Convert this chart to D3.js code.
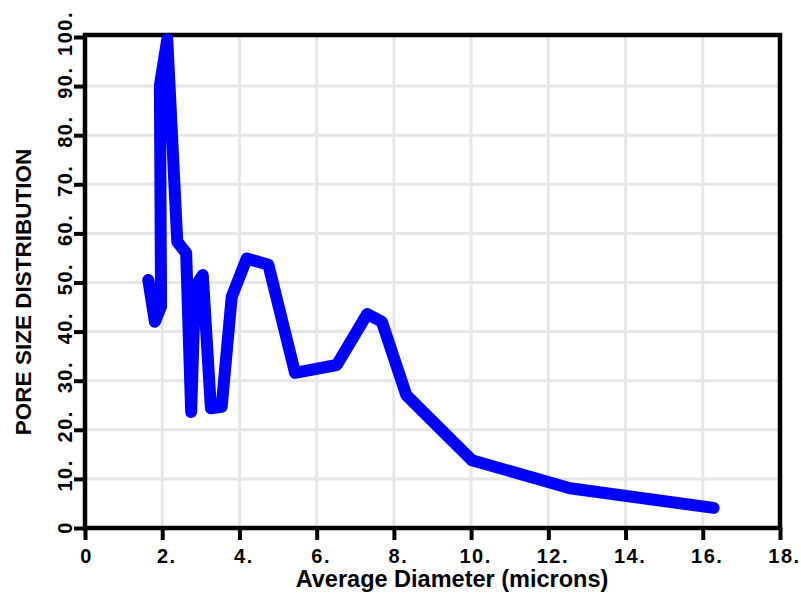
<!DOCTYPE html>
<html>
<head>
<meta charset="utf-8">
<script src="https://cdn.jsdelivr.net/npm/d3@7"></script>
<style>
  body { margin: 0; background: #fff; }
  text { font-family: "Liberation Sans", Arial, sans-serif; font-weight: bold; fill: #000; }
</style>
</head>
<body>
<script>
// data
var diameter = [1.64, 1.81, 1.97, 1.94, 2.13, 2.39, 2.62, 2.75, 2.85, 3.05, 3.26, 3.54, 3.80, 4.19, 4.75, 5.44, 6.52, 7.31, 7.69, 8.32, 10.02, 12.56, 16.28];
var poreSize = [50.5, 42.0, 45.1, 90.2, 99.5, 58.3, 56.0, 23.6, 49.1, 51.5, 24.4, 24.7, 47.1, 54.9, 53.6, 31.6, 33.2, 43.6, 42.0, 27.1, 13.8, 8.1, 4.1];

var xTicks = [0, 2, 4, 6, 8, 10, 12, 14, 16, 18];
var xTickLabels = ["0", "2.", "4.", "6.", "8.", "10.", "12.", "14.", "16.", "18."];
var yTicks = [0, 10, 20, 30, 40, 50, 60, 70, 80, 90, 100];
var yTickLabels = ["0", "10.", "20.", "30.", "40.", "50.", "60.", "70.", "80.", "90.", "100."];

//Define Margin (plot area edges)
var W = 801, H = 598;
var margin = {left: 85, right: 780, top: 37, bottom: 528};

var svg = d3.select("body").append("svg")
    .attr("width", W)
    .attr("height", H);

//Define Scales
var xScale = d3.scaleLinear().domain([0, 18]).range([margin.left, margin.right]);
var yScale = d3.scaleLinear().domain([0, 100]).range([margin.bottom, margin.top]);

//Grid lines
svg.append("g").selectAll("line")
    .data(xTicks.slice(1, -1))
    .enter().append("line")
    .attr("x1", function(d) { return xScale(d); })
    .attr("x2", function(d) { return xScale(d); })
    .attr("y1", margin.top)
    .attr("y2", margin.bottom)
    .attr("stroke", "#e6e6e6")
    .attr("stroke-width", 3);

svg.append("g").selectAll("line")
    .data(yTicks.slice(1, -1))
    .enter().append("line")
    .attr("x1", margin.left)
    .attr("x2", margin.right)
    .attr("y1", function(d) { return yScale(d); })
    .attr("y2", function(d) { return yScale(d); })
    .attr("stroke", "#e6e6e6")
    .attr("stroke-width", 3);

//Axes
var xAxis = d3.axisBottom(xScale)
    .tickValues(xTicks)
    .tickSize(12)
    .tickPadding(9)
    .tickFormat(function(d, i) { return xTickLabels[i]; });

var yAxis = d3.axisLeft(yScale)
    .tickValues(yTicks)
    .tickSize(11)
    .tickFormat(function(d, i) { return yTickLabels[i]; });

var gX = svg.append("g")
    .attr("transform", "translate(0," + margin.bottom + ")")
    .call(xAxis);
gX.select(".domain").remove();
gX.selectAll(".tick line").attr("stroke", "#000").attr("stroke-width", 4);
gX.selectAll(".tick text")
    .attr("font-size", "20px")
    .attr("font-family", "Liberation Sans, Arial, sans-serif")
    .style("letter-spacing", "1.5px")
    .attr("dx", function(d, i) { return xTickLabels[i].indexOf(".") > 0 ? 4 : 1; });

var gY = svg.append("g")
    .attr("transform", "translate(" + margin.left + ",0)")
    .call(yAxis);
gY.select(".domain").remove();
gY.selectAll(".tick line").attr("stroke", "#000").attr("stroke-width", 4);
gY.selectAll(".tick text")
    .attr("font-size", "20px")
    .attr("font-family", "Liberation Sans, Arial, sans-serif")
    .style("letter-spacing", "1.5px")
    .attr("text-anchor", "middle")
    .attr("x", 0)
    .attr("dy", 0)
    .attr("transform", function(d, i) {
        var sh = yTickLabels[i].indexOf(".") > 0 ? 4 : 1;
        return "translate(-13," + (-sh) + ") rotate(-90)";
    });

//Frame
svg.append("rect")
    .attr("x", margin.left)
    .attr("y", margin.top - 2)
    .attr("width", margin.right - margin.left)
    .attr("height", margin.bottom - margin.top + 2)
    .attr("fill", "none")
    .attr("stroke", "#000")
    .attr("stroke-width", 4.5);

//Draw line
var points = diameter.map(function(d, i) { return [d, poreSize[i]]; });
var line = d3.line()
    .x(function(d) { return xScale(d[0]); })
    .y(function(d) { return yScale(d[1]); });

svg.append("path")
    .datum(points)
    .attr("d", line)
    .attr("fill", "none")
    .attr("stroke", "#0000ff")
    .attr("stroke-width", 12)
    .attr("stroke-linejoin", "round")
    .attr("stroke-linecap", "round");

//Axis titles
svg.append("text")
    .attr("x", 452)
    .attr("y", 587)
    .attr("text-anchor", "middle")
    .attr("font-size", "23.5px")
    .text("Average Diameter (microns)");

svg.append("text")
    .attr("transform", "translate(31,292) rotate(-90)")
    .attr("text-anchor", "middle")
    .attr("font-size", "22.5px")
    .text("PORE SIZE DISTRIBUTION");
</script>
</body>
</html>
